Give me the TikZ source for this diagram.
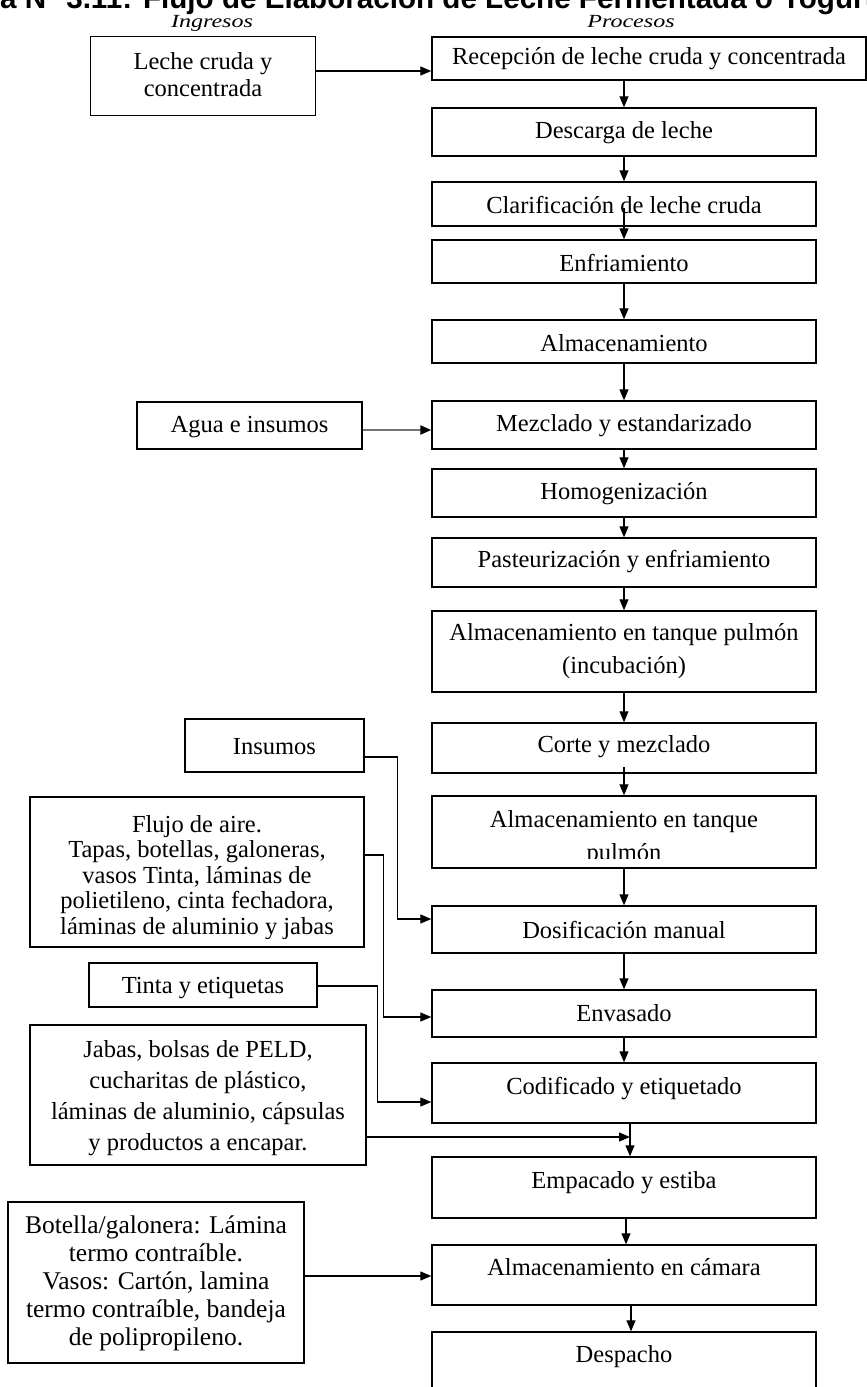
\documentclass[tikz,border=0pt]{standalone}
\usepackage{fontspec}
\setmainfont{Liberation Serif}
\newfontfamily\titlefont{Liberation Sans}
\newfontfamily\hdrfont{Liberation Serif}[FakeStretch=1.3]
\usetikzlibrary{arrows.meta,calc}
\begin{document}
\begin{tikzpicture}[x=1pt,y=-1pt,
  pbox/.style={draw,line width=1.4pt,rectangle,inner sep=0pt,minimum width=384pt},
  ibox/.style={draw,line width=1.4pt,rectangle,inner sep=0pt},
  txt/.style={inner sep=0pt,align=center,font=\fontsize{24.5}{30}\selectfont},
  hdr/.style={inner sep=0pt,anchor=base,font=\hdrfont\itshape\fontsize{18.5}{20}\selectfont},
  arr/.style={line width=1.2pt,-{Triangle[length=11pt,width=9pt]}},
  arrg/.style={line width=2.2pt,draw=black!55,-{Triangle[length=11pt,width=9pt,color=black]}}]
\useasboundingbox (0,0) rectangle (867,1387);
\clip (0,0) rectangle (867,1387);
% title and headers
\node[anchor=base west,inner sep=0pt,font=\titlefont\bfseries\fontsize{29.6}{30}\selectfont] (title) at (0,8) {a N° 3.11: Flujo de Elaboración de Leche Fermentada o Yogurt};
\node[hdr] (hin) at (212,27) {Ingresos};
\node[hdr] (hpr) at (631,27) {Procesos};
% process column
\node[pbox,minimum width=434pt,minimum height=43pt] (rec) at (649,58.5) {};
\node[txt] (rect) at (649,59) {Recepción de leche cruda y concentrada};
\node[pbox,minimum height=48pt] (desc) at (624,132) {};
\node[txt] (desct) at (624,133) {Descarga de leche};
\node[pbox,minimum height=44pt] (clar) at (624,204) {};
\node[txt] (clart) at (624,205) {Clarificación de leche cruda};
\node[pbox,minimum height=43pt] (enf) at (624,261.5) {};
\node[txt] (enft) at (624,263) {Enfriamiento};
\node[pbox,minimum height=43pt] (alm) at (624,341.5) {};
\node[txt] (almt) at (624,343) {Almacenamiento};
\node[pbox,minimum height=48pt] (mez) at (624,425) {};
\node[txt] (mezt) at (624,426) {Mezclado y estandarizado};
\node[pbox,minimum height=48pt] (hom) at (624,493) {};
\node[txt] (homt) at (624,494) {Homogenización};
\node[pbox,minimum height=49pt] (pas) at (624,562.5) {};
\node[txt] (past) at (624,562) {Pasteurización y enfriamiento};
\node[pbox,minimum height=81pt] (tinc) at (624,651.5) {};
\node[txt,font=\fontsize{24.5}{33}\selectfont] (tinct) at (624,651.5) {Almacenamiento en tanque pulmón\\(incubación)};
\node[pbox,minimum height=50pt] (cor) at (624,748) {};
\node[txt] (cort) at (624,747) {Corte y mezclado};
\node[pbox,minimum height=72pt] (tpul) at (624,832) {};
\begin{scope}
\clip (432,796) rectangle (816,858);
\node[txt,font=\fontsize{24.5}{33}\selectfont] (tpult) at (624,838.5) {Almacenamiento en tanque\\pulmón};
\end{scope}
\node[pbox,minimum height=47pt] (dos) at (624,929.5) {};
\node[txt] (dost) at (624,930) {Dosificación manual};
\node[pbox,minimum height=47pt] (env) at (624,1013.5) {};
\node[txt] (envt) at (624,1013) {Envasado};
\node[pbox,minimum height=60pt] (cod) at (624,1093) {};
\node[txt] (codt) at (624,1089) {Codificado y etiquetado};
\node[pbox,minimum height=61pt] (emp) at (624,1187.5) {};
\node[txt] (empt) at (624,1183) {Empacado y estiba};
\node[pbox,minimum height=60pt] (cam) at (624,1275) {};
\node[txt] (camt) at (624,1267) {Almacenamiento en cámara};
\node[pbox,minimum height=68pt] (desp) at (624,1366) {};
\node[txt] (despt) at (624,1357) {Despacho};
% input column
\node[ibox,minimum width=225pt,minimum height=79pt] (lec) at (203,76) {};
\node[txt,font=\fontsize{24.5}{27}\selectfont] (lect) at (203,75) {Leche cruda y\\concentrada};
\node[ibox,minimum width=225pt,minimum height=47pt] (agu) at (249.5,425.5) {};
\node[txt] (agut) at (249.5,427) {Agua e insumos};
\node[ibox,minimum width=179pt,minimum height=53pt] (ins) at (274.5,745.5) {};
\node[txt] (inst) at (274.5,747) {Insumos};
\node[ibox,minimum width=334pt,minimum height=150pt] (flu) at (197,872) {};
\begin{scope}
\clip (30,797) rectangle (364,938);
\node[txt,font=\fontsize{24.5}{25.5}\selectfont] (flut) at (197,877.5) {Flujo de aire.\\Tapas, botellas, galoneras,\\vasos Tinta, láminas de\\polietileno, cinta fechadora,\\láminas de aluminio y jabas};
\end{scope}
\node[ibox,minimum width=228pt,minimum height=44pt] (tin) at (203,985) {};
\node[txt] (tint) at (203,988) {Tinta y etiquetas};
\node[ibox,minimum width=336pt,minimum height=140pt] (jab) at (198,1095) {};
\node[txt,font=\fontsize{24.5}{31}\selectfont] (jabt) at (198,1098) {Jabas, bolsas de PELD,\\cucharitas de plástico,\\láminas de aluminio, cápsulas\\y productos a encapar.};
\node[ibox,minimum width=296pt,minimum height=161pt] (bot) at (156,1282.5) {};
\node[txt,font=\fontsize{25.5}{28}\selectfont] (bott) at (156,1283) {Botella/galonera: Lámina\\termo contraíble.\\Vasos: Cartón, lamina\\termo contraíble, bandeja\\de polipropileno.};
% connectors
\coordinate (c1) at ([yshift=5pt]lec.east);
\draw[arr] (c1) -- (c1 -| rec.west);
\draw[arr] (rec.south -| desc.north) -- (desc.north);
\draw[arr] (desc.south) -- (clar.north);
\draw[arr] ([yshift=-4pt]clar.center) -- (enf.north);
\draw[arr] (enf.south) -- (alm.north);
\draw[arr] (alm.south) -- (mez.north);
\coordinate (c2) at ([yshift=-4.5pt]agu.east);
\draw[arrg] (c2) -- (c2 -| mez.west);
\draw[arr] (mez.south) -- (hom.north);
\draw[arr] (hom.south) -- (pas.north);
\draw[arr] (pas.south) -- (tinc.north);
\draw[arr] (tinc.south) -- (cor.north);
\draw[arr] ([yshift=-19pt]cor.center) -- (tpul.north);
\draw[arr] (tpul.south) -- (dos.north);
\draw[arr] (dos.south) -- (env.north);
\draw[arr] (env.south) -- (cod.north);
\draw[arr] ([yshift=-11.5pt]ins.east) -- ++(33,0) |- ([yshift=10.5pt]dos.west);
\draw[arr] ([yshift=17pt]flu.east) -- ++(19,0) |- ([yshift=-3.5pt]env.west);
\draw[arr] ([yshift=-1pt]tin.east) -- ++(60,0) |- ([yshift=-9pt]cod.west);
\coordinate (c7) at ([xshift=6pt]cod.south);
\draw[arr] (c7) -- (c7 |- emp.north);
\coordinate (c8) at ([yshift=-42pt]jab.east);
\draw[arr] (c8) -- (c8 -| c7);
\draw[arr] ([xshift=2pt]emp.south) -- ([xshift=2pt]cam.north);
\coordinate (c9) at ([yshift=6.5pt]bot.east);
\draw[arr] (c9) -- (c9 -| cam.west);
\draw[arr] ([xshift=7pt]cam.south) -- ([xshift=7pt]desp.north);
\end{tikzpicture}
\end{document}
